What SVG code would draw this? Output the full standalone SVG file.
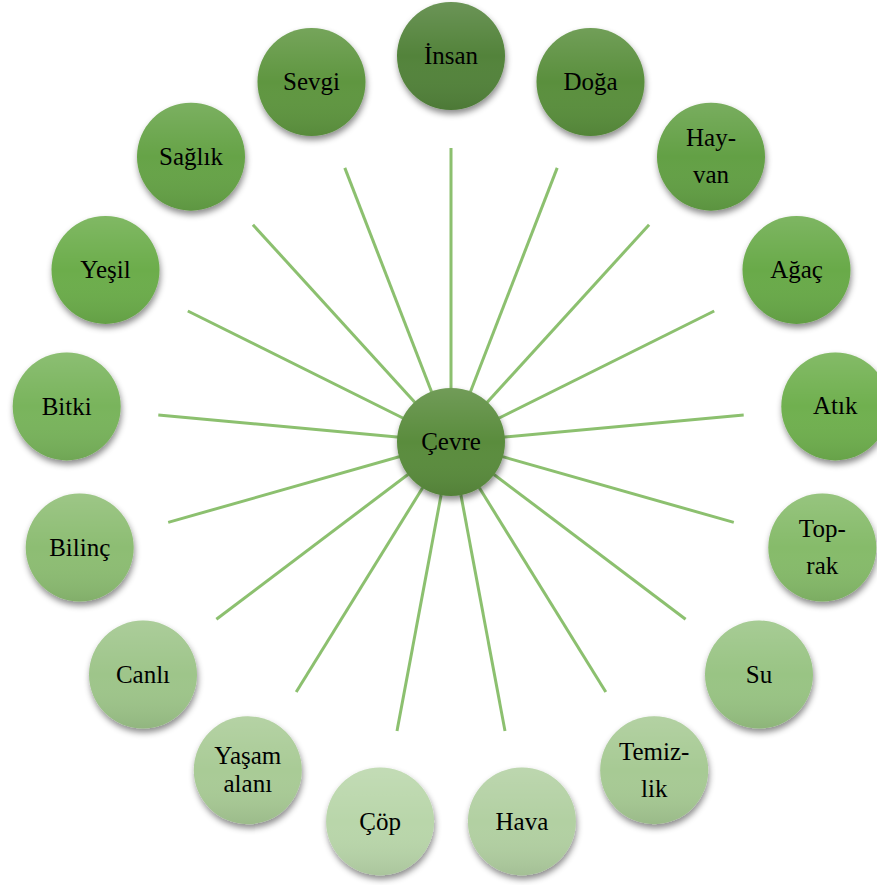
<svg xmlns="http://www.w3.org/2000/svg" width="877" height="885" viewBox="0 0 877 885">
<defs>
<linearGradient id="shade" x1="0" y1="0" x2="0" y2="1">
<stop offset="0" stop-color="#ffffff" stop-opacity="0.14"/>
<stop offset="0.5" stop-color="#ffffff" stop-opacity="0"/>
<stop offset="1" stop-color="#000000" stop-opacity="0.08"/>
</linearGradient>
<filter id="sh" x="-30%" y="-30%" width="160%" height="170%">
<feDropShadow dx="1" dy="4" stdDeviation="3" flood-color="#000" flood-opacity="0.45"/>
</filter>
</defs>
<style>
.c{stroke:none;filter:url(#sh)}
.o{fill:url(#shade)}
.t{font-family:"Liberation Serif","Times New Roman",serif;font-size:25px;fill:#000;text-anchor:middle}
.l{stroke:#8cc06f;stroke-width:3;fill:none}
</style>
<rect width="877" height="885" fill="#fff"/>
<g id="connectors" class="l">
<line x1="451" y1="442" x2="451" y2="148"/>
<line x1="451" y1="442" x2="557.2" y2="167.9"/>
<line x1="451" y1="442" x2="649.1" y2="224.7"/>
<line x1="451" y1="442" x2="714.2" y2="311.0"/>
<line x1="451" y1="442" x2="743.7" y2="414.9"/>
<line x1="451" y1="442" x2="733.8" y2="522.4"/>
<line x1="451" y1="442" x2="685.6" y2="619.2"/>
<line x1="451" y1="442" x2="605.8" y2="692.0"/>
<line x1="451" y1="442" x2="505.0" y2="731.0"/>
<line x1="451" y1="442" x2="397.0" y2="731.0"/>
<line x1="451" y1="442" x2="296.2" y2="692.0"/>
<line x1="451" y1="442" x2="216.4" y2="619.2"/>
<line x1="451" y1="442" x2="168.2" y2="522.4"/>
<line x1="451" y1="442" x2="158.3" y2="414.9"/>
<line x1="451" y1="442" x2="187.8" y2="311.0"/>
<line x1="451" y1="442" x2="252.9" y2="224.7"/>
<line x1="451" y1="442" x2="344.8" y2="167.9"/>
</g>
<g id="n-cevre"><circle class="c" cx="451" cy="442" r="54" fill="#5a8c3e"/><circle class="o" cx="451" cy="442" r="54"/><text class="t" x="451" y="450">Çevre</text></g>
<g id="n-insan"><circle class="c" cx="451" cy="56" r="54" fill="#52833a"/><circle class="o" cx="451" cy="56" r="54"/><text class="t" x="451" y="64">İnsan</text></g>
<g id="n-doga"><circle class="c" cx="590.5" cy="82" r="54" fill="#5a8f3d"/><circle class="o" cx="590.5" cy="82" r="54"/><text class="t" x="590.5" y="90">Doğa</text></g>
<g id="n-hayvan"><circle class="c" cx="711" cy="156.7" r="54" fill="#63a044"/><circle class="o" cx="711" cy="156.7" r="54"/><text class="t" x="711" y="146">Hay-</text><text class="t" x="711" y="183">van</text></g>
<g id="n-agac"><circle class="c" cx="796.5" cy="269.9" r="54" fill="#69aa49"/><circle class="o" cx="796.5" cy="269.9" r="54"/><text class="t" x="796.5" y="278">Ağaç</text></g>
<g id="n-atik"><circle class="c" cx="835.3" cy="406.4" r="54" fill="#70b04f"/><circle class="o" cx="835.3" cy="406.4" r="54"/><text class="t" x="835.3" y="414">Atık</text></g>
<g id="n-toprak"><circle class="c" cx="822.3" cy="547.6" r="54" fill="#86bb6a"/><circle class="o" cx="822.3" cy="547.6" r="54"/><text class="t" x="822.3" y="537">Top-</text><text class="t" x="822.3" y="574">rak</text></g>
<g id="n-su"><circle class="c" cx="759" cy="674.6" r="54" fill="#99c484"/><circle class="o" cx="759" cy="674.6" r="54"/><text class="t" x="759" y="683">Su</text></g>
<g id="n-temizlik"><circle class="c" cx="654.2" cy="770.2" r="54" fill="#a7ca94"/><circle class="o" cx="654.2" cy="770.2" r="54"/><text class="t" x="654.2" y="760">Temiz-</text><text class="t" x="654.2" y="797">lik</text></g>
<g id="n-hava"><circle class="c" cx="521.9" cy="821.4" r="54" fill="#b2d0a2"/><circle class="o" cx="521.9" cy="821.4" r="54"/><text class="t" x="521.9" y="830">Hava</text></g>
<g id="n-cop"><circle class="c" cx="380.1" cy="821.4" r="54" fill="#b9d6aa"/><circle class="o" cx="380.1" cy="821.4" r="54"/><text class="t" x="380.1" y="830">Çöp</text></g>
<g id="n-yasam"><circle class="c" cx="247.8" cy="770.2" r="54" fill="#a9cb96"/><circle class="o" cx="247.8" cy="770.2" r="54"/><text class="t" x="247.8" y="764">Yaşam</text><text class="t" x="247.8" y="792">alanı</text></g>
<g id="n-canli"><circle class="c" cx="143" cy="674.6" r="54" fill="#9ec58a"/><circle class="o" cx="143" cy="674.6" r="54"/><text class="t" x="143" y="683">Canlı</text></g>
<g id="n-bilinc"><circle class="c" cx="79.7" cy="547.6" r="54" fill="#8dbd73"/><circle class="o" cx="79.7" cy="547.6" r="54"/><text class="t" x="79.7" y="556">Bilinç</text></g>
<g id="n-bitki"><circle class="c" cx="66.7" cy="406.4" r="54" fill="#79b45b"/><circle class="o" cx="66.7" cy="406.4" r="54"/><text class="t" x="66.7" y="415">Bitki</text></g>
<g id="n-yesil"><circle class="c" cx="105.5" cy="269.9" r="54" fill="#6cad4c"/><circle class="o" cx="105.5" cy="269.9" r="54"/><text class="t" x="105.5" y="278">Yeşil</text></g>
<g id="n-saglik"><circle class="c" cx="191" cy="156.7" r="54" fill="#66a346"/><circle class="o" cx="191" cy="156.7" r="54"/><text class="t" x="191" y="165">Sağlık</text></g>
<g id="n-sevgi"><circle class="c" cx="311.5" cy="82" r="54" fill="#5e9641"/><circle class="o" cx="311.5" cy="82" r="54"/><text class="t" x="311.5" y="90">Sevgi</text></g>
</svg>
